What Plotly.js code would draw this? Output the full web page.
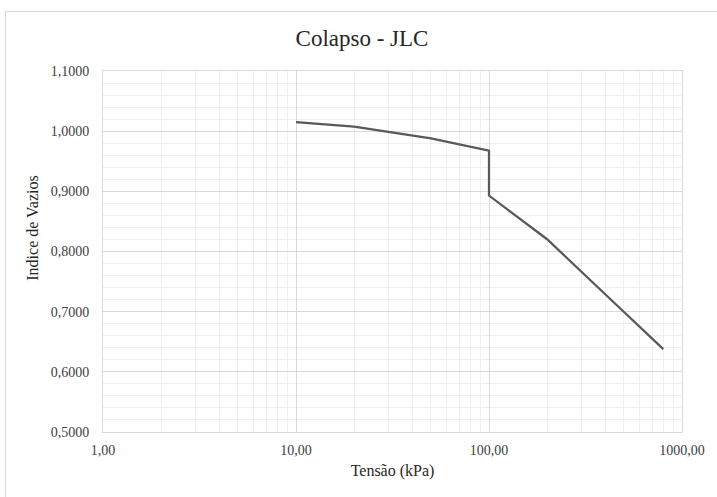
<!DOCTYPE html>
<html>
<head>
<meta charset="utf-8">
<script src="https://cdn.plot.ly/plotly-3.0.1.min.js"></script>
<style>
  html, body { margin: 0; padding: 0; width: 717px; height: 497px; overflow: hidden; background: #fff; }
  #chart { position: absolute; left: 0; top: 0; width: 717px; height: 497px; }
  #frame { position: absolute; left: 5px; top: 11px; width: 760px; height: 560px; border: 1px solid #d9d9d9; pointer-events: none; }
</style>
</head>
<body>
<div id="chart"></div>
<div id="frame"></div>
<script>
// Data
const tensao = [10, 20, 50, 100, 100, 200, 400, 800];           // kPa
const indiceVazios = [1.015, 1.0075, 0.988, 0.9676, 0.893, 0.8204, 0.729, 0.6377];

const chartTitle = 'Colapso - JLC';
const xTitle = 'Tensão (kPa)';
const yTitle = 'Indice de Vazios';
const xTickVals = [1, 10, 100, 1000];
const xTickText = ['1,00', '10,00', '100,00', '1000,00'];

const serif = '"Liberation Serif", "Times New Roman", "DejaVu Serif", serif';

const trace = {
  x: tensao,
  y: indiceVazios,
  type: 'scatter',
  mode: 'lines',
  line: { color: '#595959', width: 2.25 },
  hoverinfo: 'skip',
  showlegend: false
};

const layout = {
  width: 717,
  height: 497,
  margin: { l: 103, r: 35, t: 71, b: 65 },
  paper_bgcolor: '#ffffff',
  plot_bgcolor: '#ffffff',
  separators: ',.',
  font: { family: serif, color: '#404040', size: 13 },
  title: {
    text: chartTitle,
    font: { family: serif, size: 23, color: '#262626' },
    xref: 'container', x: 362 / 717, xanchor: 'center',
    yref: 'container', y: 1 - 38 / 497, yanchor: 'middle'
  },
  xaxis: {
    type: 'log',
    range: [0, 3],
    tickvals: xTickVals,
    ticktext: xTickText,
    ticks: '',
    ticklabelstandoff: 5,
    showline: true, linecolor: '#d9d9d9', linewidth: 1, mirror: true,
    showgrid: true, gridcolor: '#d9d9d9', gridwidth: 1,
    minor: { showgrid: true, gridcolor: '#f0f0f0', gridwidth: 1, dtick: 'D1', ticks: '' },
    zeroline: false,
    tickfont: { family: serif, size: 14, color: '#404040' },
    title: { text: xTitle, font: { family: serif, size: 16, color: '#262626' }, standoff: 8 },
    fixedrange: true
  },
  yaxis: {
    range: [0.5, 1.1],
    dtick: 0.1,
    tick0: 0.5,
    tickformat: '.4f',
    ticks: '',
    ticklabelstandoff: 10,
    showline: true, linecolor: '#d9d9d9', linewidth: 1, mirror: true,
    showgrid: true, gridcolor: '#d9d9d9', gridwidth: 1,
    minor: { showgrid: true, gridcolor: '#f0f0f0', gridwidth: 1, dtick: 0.02, ticks: '' },
    zeroline: false,
    tickfont: { family: serif, size: 14, color: '#404040' },
    fixedrange: true
  },
  annotations: [{
    text: yTitle,
    textangle: -90,
    xref: 'paper', x: (33 - 103) / 578, xanchor: 'center',
    yref: 'paper', y: (432.3 - 228) / 361.3, yanchor: 'middle',
    showarrow: false,
    font: { family: serif, size: 16, color: '#262626' }
  }]
};

Plotly.newPlot('chart', [trace], layout, { staticPlot: true, displayModeBar: false });
</script>
</body>
</html>
